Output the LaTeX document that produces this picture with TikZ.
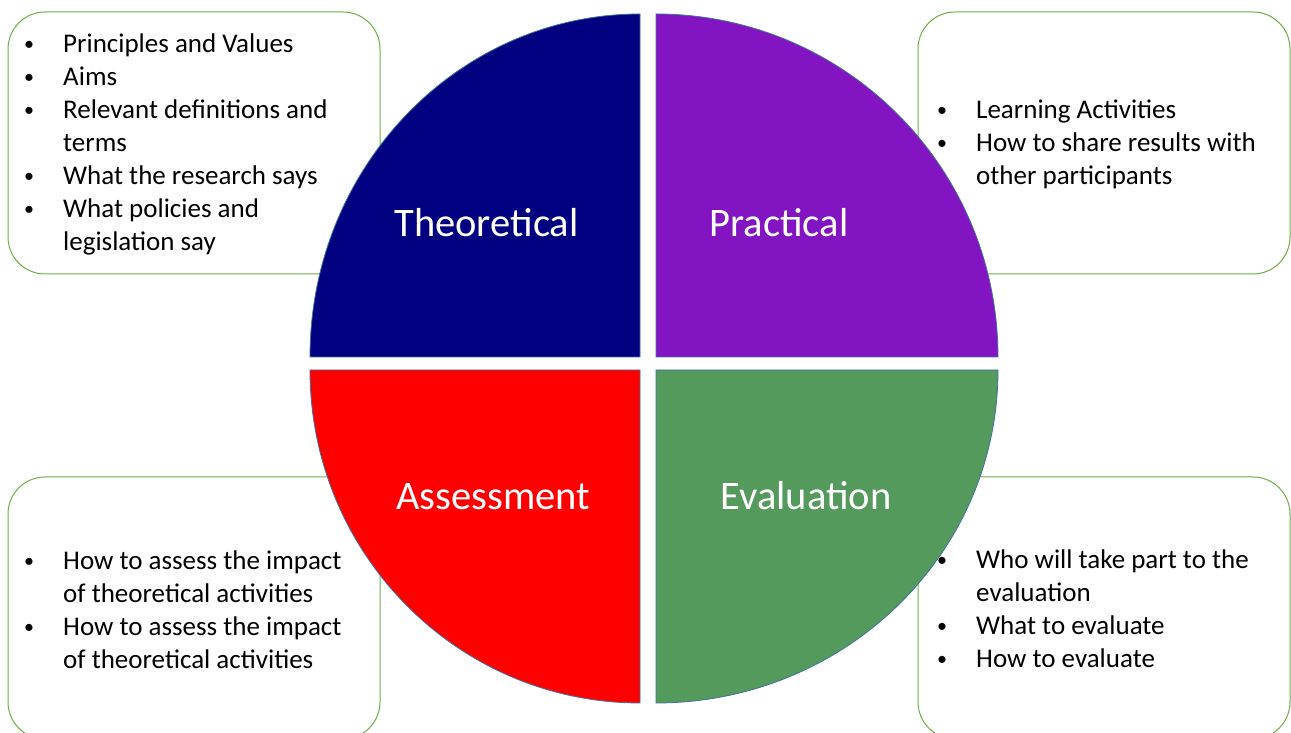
\documentclass[tikz,border=0pt]{standalone}
\usepackage{fontspec}
\setmainfont{Carlito}
\definecolor{qnavy}{HTML}{000080}
\definecolor{qpurple}{HTML}{8215C1}
\definecolor{qred}{HTML}{FF0000}
\definecolor{qgreen}{HTML}{559A5D}
\definecolor{qedge}{HTML}{41719C}
\definecolor{boxgreen}{HTML}{70AD47}
% small bullet hanging 34pt left of the item text
\newcommand{\itm}{\llap{\makebox[68pt]{\raisebox{2.5pt}{\fontsize{20}{20}\selectfont •}}}}
\tikzset{
  notebox/.style={draw=boxgreen, line width=1pt, fill=white, rounded corners=37pt},
  quadrant/.style={draw=qedge, line width=0.8pt},
  bigtitle/.style={text=white, font=\fontsize{40.5}{48}\selectfont, inner sep=0pt, anchor=base},
  itemlist/.style={text=black, font=\fontsize{27}{33}\selectfont, inner sep=0pt, anchor=base west}
}
\begin{document}
\begin{tikzpicture}[x=1pt, y=1pt]
\useasboundingbox (0,0) rectangle (1291,733);
\clip (0,0) rectangle (1291,733);
\fill[white] (0,0) rectangle (1291,733);

% note boxes behind the circle
\draw[notebox] (8,459) rectangle (380,721);
\draw[notebox] (918,459) rectangle (1290,721);
\draw[notebox] (8,-6) rectangle (380,256);
\draw[notebox] (918,-6) rectangle (1290,256);

% the four quarters of the circle
\filldraw[quadrant, fill=qnavy] (640,376) -- (310,376)
  arc[start angle=180, end angle=90, x radius=330, y radius=343] -- cycle;
\filldraw[quadrant, fill=qpurple] (656,376) -- (656,719)
  arc[start angle=90, end angle=0, x radius=342, y radius=343] -- cycle;
\filldraw[quadrant, fill=qred] (640,363) -- (310,363)
  arc[start angle=180, end angle=270, x radius=330, y radius=333] -- cycle;
\filldraw[quadrant, fill=qgreen] (656,363) -- (656,30)
  arc[start angle=270, end angle=360, x radius=342, y radius=333] -- cycle;

% quarter titles
\node[bigtitle] (theo) at (486.5,496) {Theoretical};
\node[bigtitle] (prac) at (779,496) {Practical};
\node[bigtitle] (asse) at (493,223) {Assessment};
\node[bigtitle] (eval) at (806,223) {Evaluation};

% bullet lists
\node[itemlist] (tlitems) at (63,680) {\begin{tabular}[t]{@{}l@{}}
\itm Principles and Values\\
\itm Aims\\
\itm Relevant definitions and\\
terms\\
\itm What the research says\\
\itm What policies and\\
legislation say
\end{tabular}};
\node[itemlist] (tritems) at (976,614) {\begin{tabular}[t]{@{}l@{}}
\itm Learning Activities\\
\itm How to share results with\\
other participants
\end{tabular}};
\node[itemlist] (blitems) at (63,163) {\begin{tabular}[t]{@{}l@{}}
\itm How to assess the impact\\
of theoretical activities\\
\itm How to assess the impact\\
of theoretical activities
\end{tabular}};
\node[itemlist] (britems) at (976,164) {\begin{tabular}[t]{@{}l@{}}
\itm Who will take part to the\\
evaluation\\
\itm What to evaluate\\
\itm How to evaluate
\end{tabular}};
\end{tikzpicture}
\end{document}
